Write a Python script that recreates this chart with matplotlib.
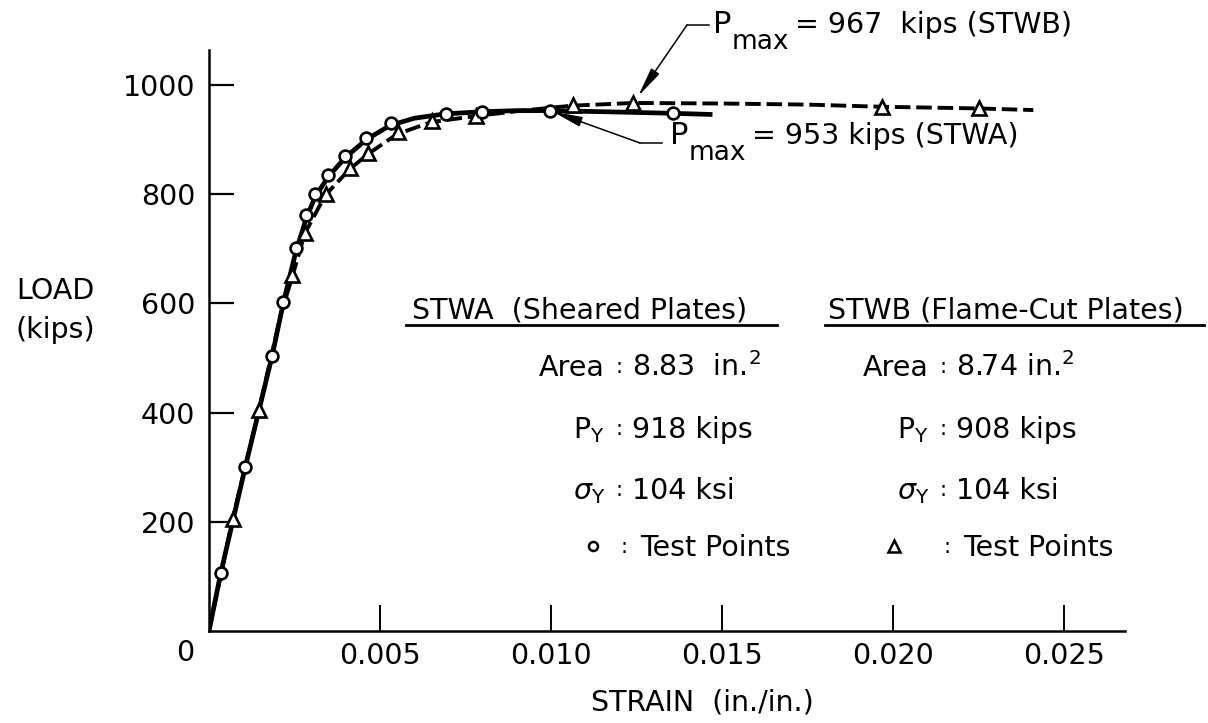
import matplotlib
matplotlib.use("Agg")
import matplotlib.pyplot as plt
from matplotlib.lines import Line2D

plt.rcParams['font.family'] = ['DejaVu Sans']
plt.rcParams['mathtext.fontset'] = 'dejavusans'

# Test points: strain (in./in.) and load (kips)
stwa_strain = [0.00034, 0.00106, 0.00185, 0.00217, 0.00254, 0.00284, 0.00310, 0.00349,
               0.00399, 0.00458, 0.00532, 0.00692, 0.00797, 0.00997, 0.01358]
stwa_load = [107, 301, 504, 602, 701, 761, 800, 835, 870, 903, 930, 947, 951, 953, 948]

stwb_strain = [0.00069, 0.00146, 0.00244, 0.00281, 0.00341, 0.00412, 0.00466, 0.00554,
               0.00653, 0.00780, 0.01063, 0.01241, 0.01967, 0.02250]
stwb_load = [205, 405, 652, 729, 800, 847, 875, 913, 934, 943, 963, 967, 960, 957]

# Faired curves drawn through the points
stwa_curve_strain = [0, 0.00034, 0.00106, 0.00185, 0.00217, 0.00254, 0.00284, 0.0031, 0.0035,
                     0.0040, 0.0046, 0.0053, 0.0060, 0.0069, 0.0080, 0.0090, 0.0100, 0.0115,
                     0.0136, 0.01465]
stwa_curve_load = [0, 105, 300, 505, 600, 695, 755, 795, 833, 868, 900, 926, 939, 947, 951,
                   953, 953, 951, 948, 946]

stwb_curve_strain = [0, 0.00069, 0.00146, 0.0021, 0.00244, 0.0028, 0.0034, 0.0041, 0.00466,
                     0.0055, 0.0065, 0.0078, 0.0090, 0.0106, 0.0124, 0.0150, 0.0175, 0.0197,
                     0.0225, 0.0241]
stwb_curve_load = [0, 205, 405, 580, 650, 728, 798, 845, 874, 910, 932, 943, 952, 962, 967,
                   966, 964, 960, 957, 954]

x_ticks = [0.005, 0.010, 0.015, 0.020, 0.025]
x_tick_labels = ['0.005', '0.010', '0.015', '0.020', '0.025']
y_ticks = [200, 400, 600, 800, 1000]

pmax_stwa = (0.00997, 953)
pmax_stwb = (0.01241, 967)

W, H = 1208, 723
FS = 20.5


def fx(x):
    return x / W


def fy(y):
    return 1 - y / H


fig = plt.figure(figsize=(W / 100, H / 100), dpi=100)
ax = fig.add_axes([fx(209), fy(631), (1125 - 209) / W, (631 - 50) / H])
ax.set_xlim(0, 0.02678)
ax.set_ylim(0, 1064)

ax.plot(stwb_curve_strain, stwb_curve_load, color='black', lw=2.8, dashes=(4, 1.5), zorder=2)
ax.plot(stwa_curve_strain, stwa_curve_load, color='black', lw=3.4, zorder=3)
ax.plot(stwb_strain, stwb_load, ls='none', marker='^', ms=10, mfc='white', mec='black',
        mew=1.9, zorder=4)
ax.plot(stwa_strain, stwa_load, ls='none', marker='o', ms=8.5, mfc='white', mec='black',
        mew=1.9, zorder=5)

for side in ['top', 'right']:
    ax.spines[side].set_visible(False)
for side in ['left', 'bottom']:
    ax.spines[side].set_linewidth(1.8)

ax.set_xticks(x_ticks, x_tick_labels)
ax.set_yticks(y_ticks)
ax.tick_params(axis='x', direction='in', length=18.5, width=1.4, pad=8, labelsize=FS)
ax.tick_params(axis='y', direction='in', length=18, width=1.6, pad=10, labelsize=FS)

fig.text(fx(185), fy(653), '0', ha='center', va='center', fontsize=FS)
fig.text(fx(702), fy(703), 'STRAIN  (in./in.)', ha='center', va='center', fontsize=FS)
fig.text(fx(55), fy(291), 'LOAD', ha='center', va='center', fontsize=FS)
fig.text(fx(55), fy(330), '(kips)', ha='center', va='center', fontsize=FS)

# Specimen data blocks
fig.text(fx(412), fy(318), 'STWA  (Sheared Plates)', ha='left', va='baseline', fontsize=FS)
fig.add_artist(Line2D([fx(406), fx(777)], [fy(325), fy(325)], color='black', lw=2,
                      transform=fig.transFigure))
fig.text(fx(828), fy(318), 'STWB (Flame-Cut Plates)', ha='left', va='baseline', fontsize=FS)
fig.add_artist(Line2D([fx(825), fx(1204)], [fy(325), fy(325)], color='black', lw=2,
                      transform=fig.transFigure))

rows_y = [376, 438, 499]
row_labels = ['Area', r'$\mathrm{P}_{\mathrm{Y}}$', r'$\sigma_{\mathrm{Y}}$']
stwa_values = [r'8.83  in.$^{\mathrm{2}}$', '918 kips', '104 ksi']
stwb_values = [r'8.74 in.$^{\mathrm{2}}$', '908 kips', '104 ksi']

for colon_x, values in [(619, stwa_values), (943, stwb_values)]:
    for y, lab, val in zip(rows_y, row_labels, values):
        fig.text(fx(colon_x - 14), fy(y), lab, ha='right', va='baseline', fontsize=FS)
        fig.text(fx(colon_x), fy(y - 3), ':', ha='center', va='baseline', fontsize=15)
        fig.text(fx(colon_x + 13), fy(y), val, ha='left', va='baseline', fontsize=FS)

fig.add_artist(Line2D([fx(593)], [fy(546)], marker='o', ms=6.5, mfc='white', mec='black',
                      mew=1.8, transform=fig.transFigure))
fig.text(fx(624), fy(553), ':', ha='center', va='baseline', fontsize=15)
fig.text(fx(640), fy(556), 'Test Points', ha='left', va='baseline', fontsize=FS)
fig.add_artist(Line2D([fx(894)], [fy(546)], marker='^', ms=8, mfc='white', mec='black',
                      mew=1.8, transform=fig.transFigure))
fig.text(fx(947), fy(553), ':', ha='center', va='baseline', fontsize=15)
fig.text(fx(963), fy(556), 'Test Points', ha='left', va='baseline', fontsize=FS)

renderer = fig.canvas.get_renderer()


def run_text(x, y, pieces):
    # lay out text pieces left to right, each with its own baseline shift and size
    for s, dy, size, gap in pieces:
        t = fig.text(fx(x), fy(y + dy), s, ha='left', va='baseline', fontsize=size)
        x += t.get_window_extent(renderer=renderer).width + gap


run_text(713, 33, [('P', 0, 22, 0), ('max', 16, 19, 6), ('= 967  kips (STWB)', 0, FS, 0)])
run_text(670, 144, [('P', 0, 22, 0), ('max', 16, 19, 6), ('= 953 kips (STWA)', 0, FS, 0)])

arrow_style = '-|>,head_length=1.8,head_width=0.3'
ax.annotate('', xy=pmax_stwb, xycoords='data', xytext=(fx(687), fy(25)),
            textcoords='figure fraction',
            arrowprops=dict(arrowstyle=arrow_style, lw=1.1, color='black', shrinkA=0, shrinkB=6))
fig.add_artist(Line2D([fx(687), fx(709)], [fy(25), fy(25)], color='black', lw=1.1,
                      transform=fig.transFigure))
ax.annotate('', xy=pmax_stwa, xycoords='data', xytext=(fx(640), fy(143)),
            textcoords='figure fraction',
            arrowprops=dict(arrowstyle=arrow_style, lw=1.1, color='black', shrinkA=0, shrinkB=2))
fig.add_artist(Line2D([fx(640), fx(662)], [fy(143), fy(143)], color='black', lw=1.1,
                      transform=fig.transFigure))

fig.savefig('out.png', dpi=100)
